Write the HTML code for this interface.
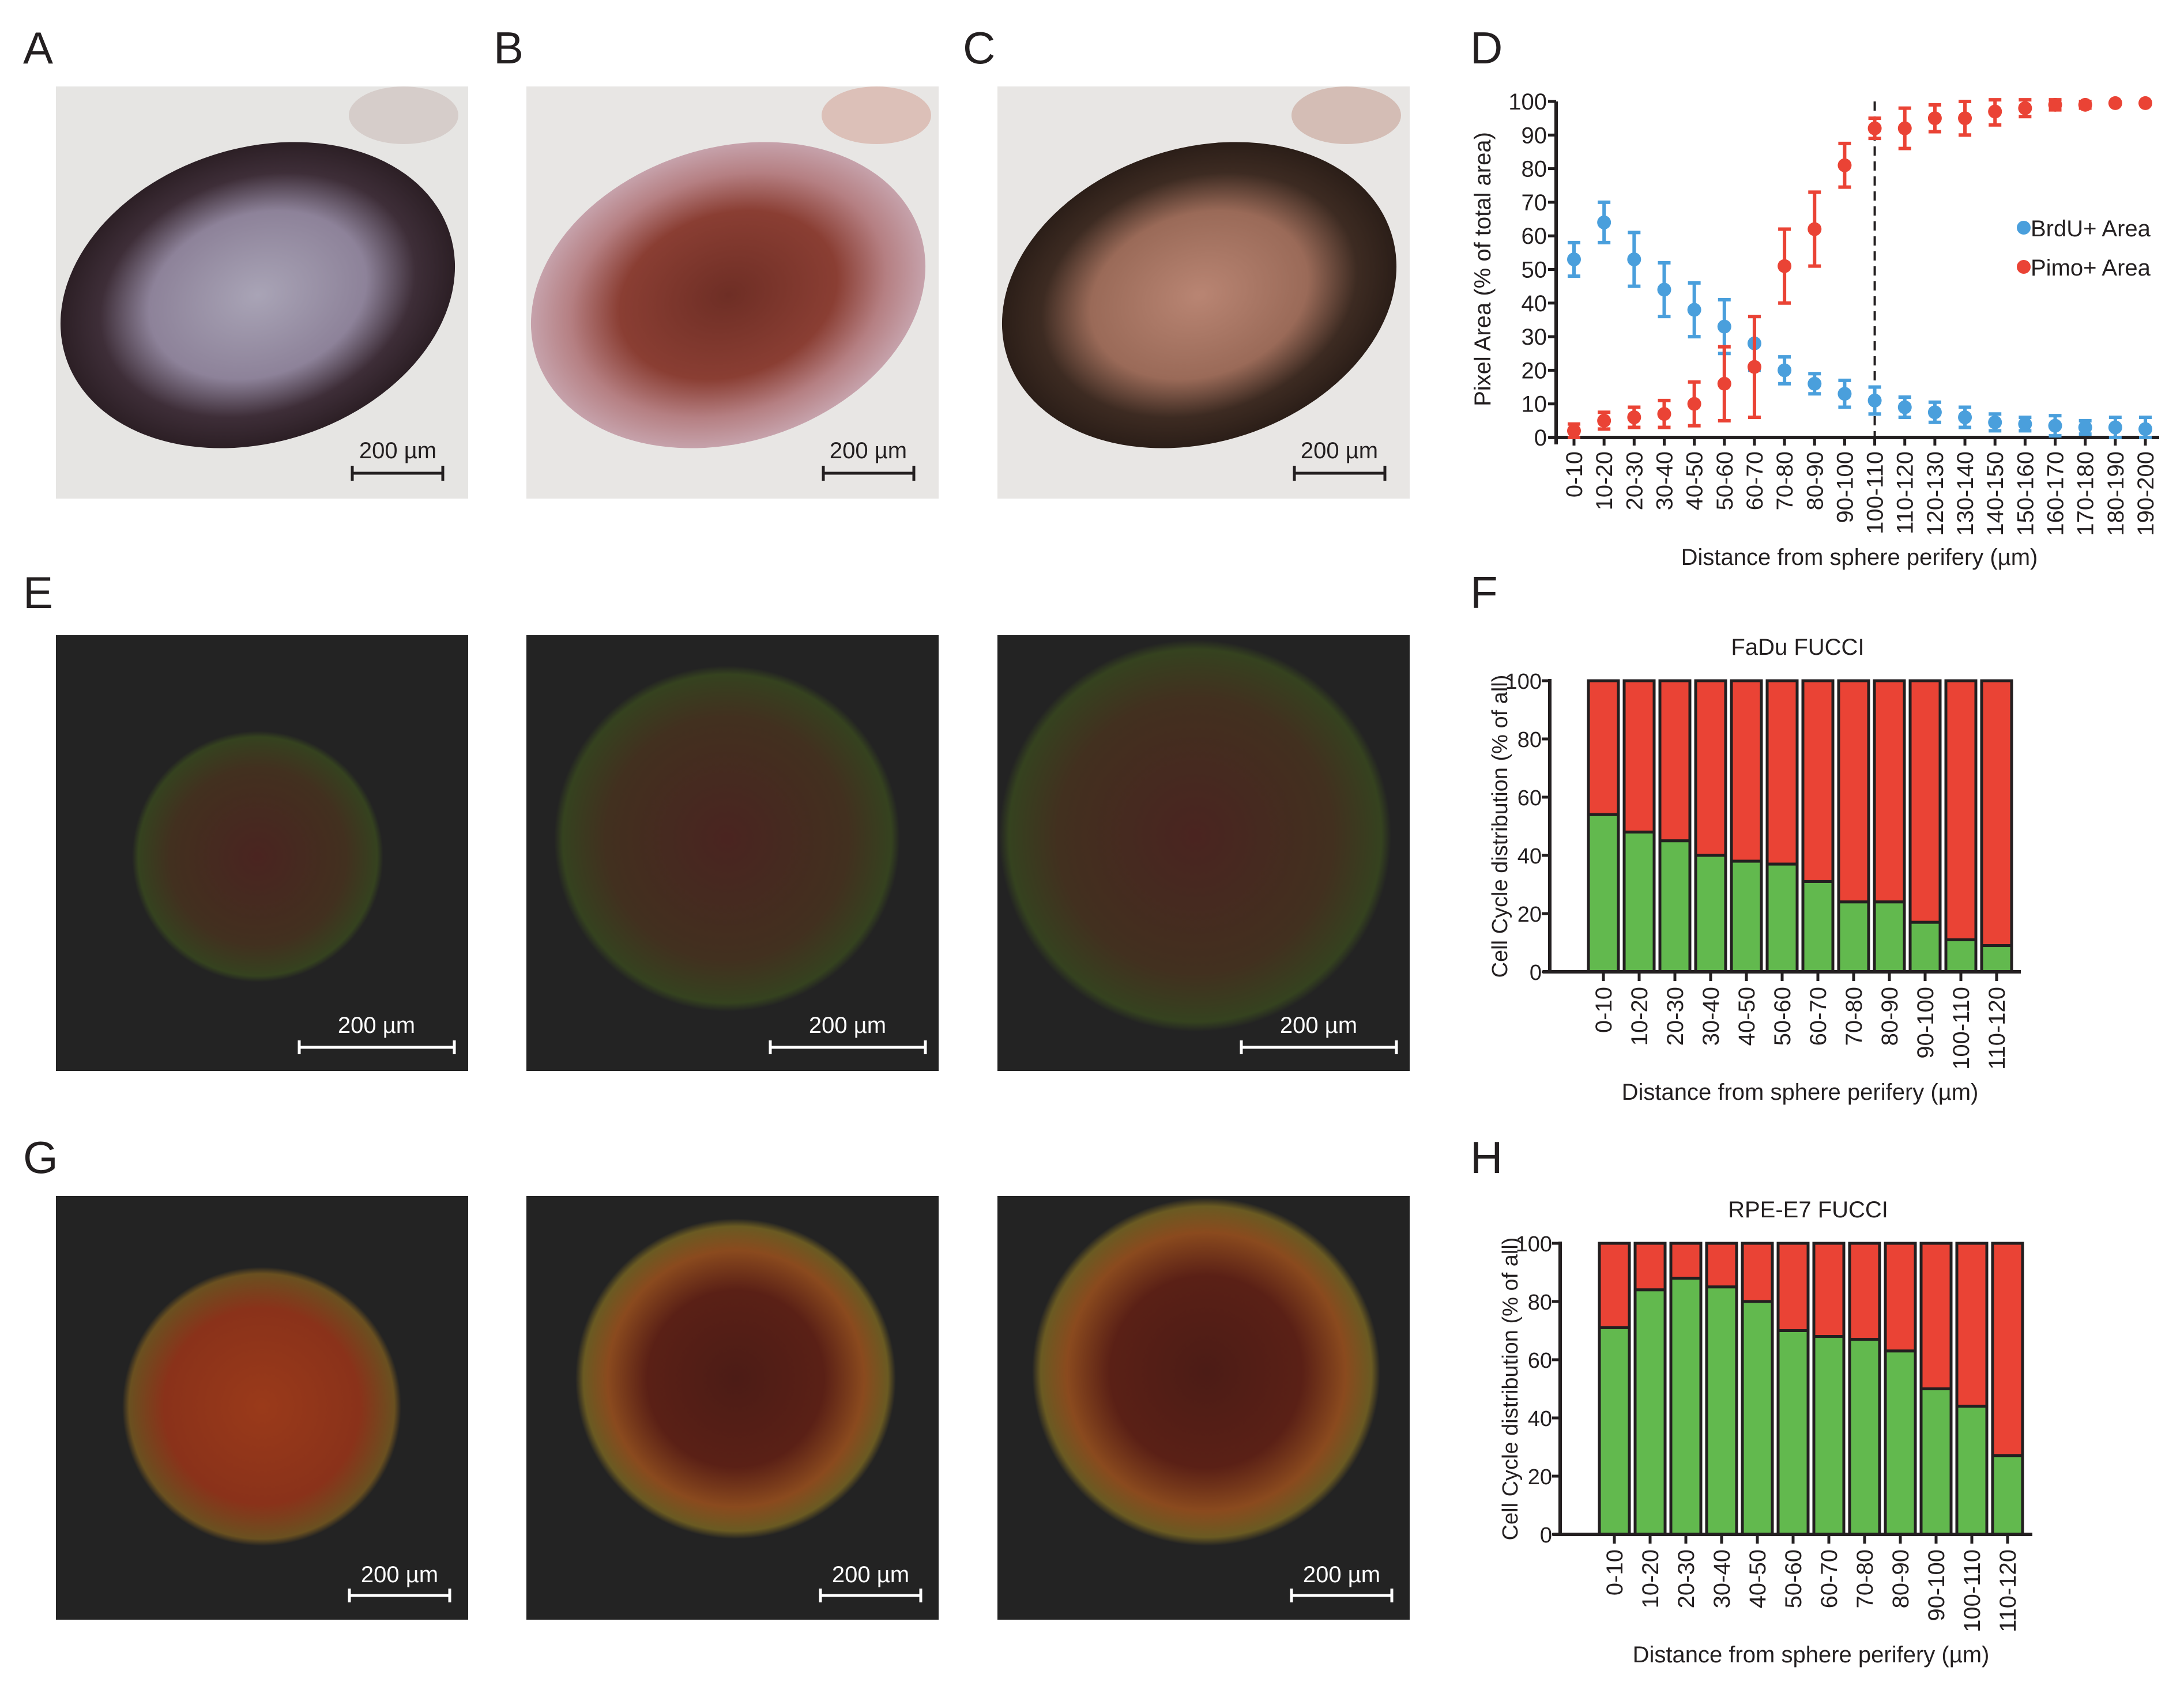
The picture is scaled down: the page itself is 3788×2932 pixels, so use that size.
<!DOCTYPE html>
<html><head><meta charset="utf-8"><style>
html,body{margin:0;padding:0;background:#fff}
svg{display:block}
text{font-family:"Liberation Sans",Arial,sans-serif;fill:#231f20}
</style></head><body>
<svg id="fig" width="3788" height="2932" viewBox="0 0 3788 2932" xmlns="http://www.w3.org/2000/svg">
<defs>
<radialGradient id="gA"><stop offset="0" stop-color="#a9a4b6"/><stop offset="0.55" stop-color="#8d8299"/><stop offset="0.8" stop-color="#3e2e38"/><stop offset="1" stop-color="#2c1f25"/></radialGradient>
<radialGradient id="gB"><stop offset="0" stop-color="#6e2e25"/><stop offset="0.55" stop-color="#8a3e33"/><stop offset="0.8" stop-color="#b57f82"/><stop offset="1" stop-color="#c6a2ab"/></radialGradient>
<radialGradient id="gC"><stop offset="0" stop-color="#b98573"/><stop offset="0.55" stop-color="#9a6a58"/><stop offset="0.8" stop-color="#3d2b22"/><stop offset="1" stop-color="#2b1e18"/></radialGradient>
<radialGradient id="gE"><stop offset="0" stop-color="#4a2420"/><stop offset="0.7" stop-color="#42301f"/><stop offset="0.95" stop-color="#35421f"/><stop offset="1" stop-color="#232323"/></radialGradient>
<radialGradient id="gG"><stop offset="0" stop-color="#4c1c16"/><stop offset="0.55" stop-color="#5a2016"/><stop offset="0.8" stop-color="#8a4a1e"/><stop offset="0.95" stop-color="#6a5a22"/><stop offset="1" stop-color="#232323"/></radialGradient>
<radialGradient id="gG1"><stop offset="0" stop-color="#9a3a1a"/><stop offset="0.7" stop-color="#8a321a"/><stop offset="0.95" stop-color="#6a5020"/><stop offset="1" stop-color="#232323"/></radialGradient>
</defs>

<g font-size="78">
<text x="40" y="110">A</text><text x="856" y="110">B</text><text x="1670" y="110">C</text>
<text x="2550" y="110">D</text><text x="40" y="1055">E</text><text x="2550" y="1055">F</text>
<text x="40" y="2035">G</text><text x="2550" y="2035">H</text>
</g>

<g>
<rect x="97" y="150" width="715" height="715" fill="#e6e5e3"/>
<ellipse cx="700" cy="200" rx="95" ry="50" fill="#d6cdca"/>
<ellipse cx="447" cy="512" rx="350" ry="255" transform="rotate(-18 447 512)" fill="url(#gA)"/>
<line x1="611" y1="821" x2="768" y2="821" stroke="#231f20" stroke-width="5"/>
<line x1="611" y1="808" x2="611" y2="834" stroke="#231f20" stroke-width="5"/><line x1="768" y1="808" x2="768" y2="834" stroke="#231f20" stroke-width="5"/>
<text x="690" y="795" font-size="40" text-anchor="middle">200 µm</text>
</g>
<g>
<rect x="913" y="150" width="715" height="715" fill="#e8e6e4"/>
<ellipse cx="1520" cy="200" rx="95" ry="50" fill="#dcc0b8"/>
<ellipse cx="1263" cy="512" rx="350" ry="255" transform="rotate(-18 1263 512)" fill="url(#gB)"/>
<line x1="1428" y1="821" x2="1585" y2="821" stroke="#231f20" stroke-width="5"/>
<line x1="1428" y1="808" x2="1428" y2="834" stroke="#231f20" stroke-width="5"/><line x1="1585" y1="808" x2="1585" y2="834" stroke="#231f20" stroke-width="5"/>
<text x="1506" y="795" font-size="40" text-anchor="middle">200 µm</text>
</g>
<g>
<rect x="1730" y="150" width="715" height="715" fill="#e8e6e4"/>
<ellipse cx="2335" cy="200" rx="95" ry="50" fill="#d4bdb5"/>
<ellipse cx="2080" cy="512" rx="350" ry="255" transform="rotate(-18 2080 512)" fill="url(#gC)"/>
<line x1="2245" y1="821" x2="2402" y2="821" stroke="#231f20" stroke-width="5"/>
<line x1="2245" y1="808" x2="2245" y2="834" stroke="#231f20" stroke-width="5"/><line x1="2402" y1="808" x2="2402" y2="834" stroke="#231f20" stroke-width="5"/>
<text x="2323" y="795" font-size="40" text-anchor="middle">200 µm</text>
</g>

<g>
<rect x="97" y="1102" width="715" height="756" fill="#232323"/>
<circle cx="447" cy="1486" r="218" fill="url(#gE)"/>
<line x1="519" y1="1817" x2="788" y2="1817" stroke="#fff" stroke-width="5"/>
<line x1="519" y1="1805" x2="519" y2="1829" stroke="#fff" stroke-width="5"/><line x1="788" y1="1805" x2="788" y2="1829" stroke="#fff" stroke-width="5"/>
<text x="653" y="1792" font-size="40" text-anchor="middle" style="fill:#fff">200 µm</text>
</g>
<g>
<rect x="913" y="1102" width="715" height="756" fill="#232323"/>
<circle cx="1261" cy="1455" r="300" fill="url(#gE)"/>
<line x1="1336" y1="1817" x2="1605" y2="1817" stroke="#fff" stroke-width="5"/>
<line x1="1336" y1="1805" x2="1336" y2="1829" stroke="#fff" stroke-width="5"/><line x1="1605" y1="1805" x2="1605" y2="1829" stroke="#fff" stroke-width="5"/>
<text x="1470" y="1792" font-size="40" text-anchor="middle" style="fill:#fff">200 µm</text>
</g>
<g>
<rect x="1730" y="1102" width="715" height="756" fill="#232323"/>
<circle cx="2073" cy="1450" r="340" fill="url(#gE)"/>
<line x1="2153" y1="1817" x2="2422" y2="1817" stroke="#fff" stroke-width="5"/>
<line x1="2153" y1="1805" x2="2153" y2="1829" stroke="#fff" stroke-width="5"/><line x1="2422" y1="1805" x2="2422" y2="1829" stroke="#fff" stroke-width="5"/>
<text x="2287" y="1792" font-size="40" text-anchor="middle" style="fill:#fff">200 µm</text>
</g>

<g>
<rect x="97" y="2075" width="715" height="735" fill="#232323"/>
<circle cx="454" cy="2440" r="242" fill="url(#gG1)"/>
<line x1="606" y1="2768" x2="780" y2="2768" stroke="#fff" stroke-width="5"/>
<line x1="606" y1="2756" x2="606" y2="2780" stroke="#fff" stroke-width="5"/><line x1="780" y1="2756" x2="780" y2="2780" stroke="#fff" stroke-width="5"/>
<text x="693" y="2745" font-size="40" text-anchor="middle" style="fill:#fff">200 µm</text>
</g>
<g>
<rect x="913" y="2075" width="715" height="735" fill="#232323"/>
<circle cx="1276" cy="2392" r="278" fill="url(#gG)"/>
<line x1="1423" y1="2768" x2="1597" y2="2768" stroke="#fff" stroke-width="5"/>
<line x1="1423" y1="2756" x2="1423" y2="2780" stroke="#fff" stroke-width="5"/><line x1="1597" y1="2756" x2="1597" y2="2780" stroke="#fff" stroke-width="5"/>
<text x="1510" y="2745" font-size="40" text-anchor="middle" style="fill:#fff">200 µm</text>
</g>
<g>
<rect x="1730" y="2075" width="715" height="735" fill="#232323"/>
<circle cx="2092" cy="2380" r="302" fill="url(#gG)"/>
<line x1="2240" y1="2768" x2="2414" y2="2768" stroke="#fff" stroke-width="5"/>
<line x1="2240" y1="2756" x2="2240" y2="2780" stroke="#fff" stroke-width="5"/><line x1="2414" y1="2756" x2="2414" y2="2780" stroke="#fff" stroke-width="5"/>
<text x="2327" y="2745" font-size="40" text-anchor="middle" style="fill:#fff">200 µm</text>
</g>

<g id="chartD"></g>
<g id="chartF"></g>
<g id="chartH"></g>
</svg>
<script>
// ---- Panel D data ----
const catsD = ["0-10","10-20","20-30","30-40","40-50","50-60","60-70","70-80","80-90","90-100","100-110","110-120","120-130","130-140","140-150","150-160","160-170","170-180","180-190","190-200"];
const brdu = [53,64,53,44,38,33,28,20,16,13,11,9,7.5,6,4.5,4,3.5,3,3,2.5];
const brduErr = [5,6,8,8,8,8,8,4,3,4,4,3,3,3,2.5,2,3,2,3,3.5];
const pimo = [2,5,6,7,10,16,21,51,62,81,92,92,95,95,97,98,99,99,99.5,99.5];
const pimoErr = [2,2.5,3,4,6.5,11,15,11,11,6.5,3,6,4,5,4,2.5,1.5,1,0,0];
const ticksD = [0,10,20,30,40,50,60,70,80,90,100];
const dashedCatD = "100-110";
// ---- Panel F data ----
const catsF = ["0-10","10-20","20-30","30-40","40-50","50-60","60-70","70-80","80-90","90-100","100-110","110-120"];
const greenF = [54,48,45,40,38,37,31,24,24,17,11,9];
// ---- Panel H data ----
const catsH = ["0-10","10-20","20-30","30-40","40-50","50-60","60-70","70-80","80-90","90-100","100-110","110-120"];
const greenH = [71,84,88,85,80,70,68,67,63,50,44,27];
const ticksBar = [0,20,40,60,80,100];

const NS="http://www.w3.org/2000/svg";
function mk(parent,tag,attrs,txt){const e=document.createElementNS(NS,tag);for(const k in attrs)e.setAttribute(k,attrs[k]);if(txt!==undefined)e.textContent=txt;parent.appendChild(e);return e;}
const RED="#ea4335", BLUE="#4a9fdc", GREEN="#62b94e", INK="#231f20";

(function(){
  const g=document.getElementById('chartD');
  const x0=2699,x1=3745,y0=759,y100=176,c0=2730,cN=3721;
  const yS=v=>y0-(y0-y100)*v/100;
  const xS=i=>c0+(cN-c0)*i/(catsD.length-1);
  const ax=mk(g,'path',{d:`M${x0} ${y100} V${y0+12} M${x0-12} ${y0} H${x1}`,stroke:INK,'stroke-width':6,fill:'none'});
  
  ticksD.forEach(t=>{
    mk(g,'line',{x1:x0-14,x2:x0,y1:yS(t),y2:yS(t),stroke:INK,'stroke-width':5});
    const tl=mk(g,'text',{x:x0-16,y:yS(t)+14,'font-size':40,'text-anchor':'end'},t);
    
  });
  catsD.forEach((c,i)=>{
    mk(g,'line',{x1:xS(i),x2:xS(i),y1:y0,y2:y0+14,stroke:INK,'stroke-width':5});
    const tl=mk(g,'text',{x:0,y:0,'font-size':40,'text-anchor':'end',transform:`translate(${xS(i)+14},${y0+24}) rotate(-90)`},c);
    
  });
  const di=catsD.indexOf(dashedCatD);
  const dl=mk(g,'line',{x1:xS(di),x2:xS(di),y1:y100,y2:y0,stroke:INK,'stroke-width':4,'stroke-dasharray':'16 10'});
  
  function series(vals,errs,col,name){
    vals.forEach((v,i)=>{
      const x=xS(i),lo=yS(Math.max(0,v-errs[i])),hi=yS(Math.min(100.5,v+errs[i]));
      if(errs[i]>0){
        mk(g,'path',{d:`M${x} ${lo} V${hi} M${x-11} ${lo} H${x+11} M${x-11} ${hi} H${x+11}`,stroke:col,'stroke-width':6,fill:'none'});
      }
      const p=mk(g,'circle',{cx:x,cy:yS(v),r:12,fill:col});
      
    });
  }
  series(brdu,brduErr,BLUE,'brdu');
  series(pimo,pimoErr,RED,'pimo');
  const l1=mk(g,'g',{});
  mk(l1,'circle',{cx:3510,cy:395,r:12,fill:BLUE});mk(l1,'text',{x:3522,y:410,'font-size':40},'BrdU+ Area');
  const l2=mk(g,'g',{});
  mk(l2,'circle',{cx:3510,cy:463,r:12,fill:RED});mk(l2,'text',{x:3522,y:478,'font-size':40},'Pimo+ Area');
  const yt=mk(g,'text',{x:0,y:0,'font-size':40,'text-anchor':'middle',transform:`translate(2585,467) rotate(-90)`},'Pixel Area (% of total area)');
  
  const xt=mk(g,'text',{x:3225,y:980,'font-size':40,'text-anchor':'middle'},'Distance from sphere perifery (µm)');
  
})();

function barChart(id,cats,green,o){
  const g=document.getElementById(id);
  const yS=v=>o.y0-(o.y0-o.y100)*v/100;
  const xS=i=>o.c0+(o.cN-o.c0)*i/(cats.length-1);
  const bw=52;
  cats.forEach((c,i)=>{
    const x=xS(i)-bw/2;
    const r=mk(g,'rect',{x:x,y:yS(100),width:bw,height:yS(green[i])-yS(100),fill:RED,stroke:INK,'stroke-width':5});
    
    const gr=mk(g,'rect',{x:x,y:yS(green[i]),width:bw,height:o.y0-yS(green[i]),fill:GREEN,stroke:INK,'stroke-width':5});
    
    mk(g,'line',{x1:xS(i),x2:xS(i),y1:o.y0,y2:o.y0+16,stroke:INK,'stroke-width':5});
    const tl=mk(g,'text',{x:0,y:0,'font-size':40,'text-anchor':'end',transform:`translate(${xS(i)+14},${o.y0+26}) rotate(-90)`},c);
    
  });
  const ax=mk(g,'path',{d:`M${o.x0} ${o.y100-3} V${o.y0} M${o.x0-12} ${o.y0} H${o.x1}`,stroke:INK,'stroke-width':6,fill:'none'});
  
  ticksBar.forEach(t=>{
    mk(g,'line',{x1:o.x0-14,x2:o.x0,y1:yS(t),y2:yS(t),stroke:INK,'stroke-width':5});
    const tl=mk(g,'text',{x:o.x0-14,y:yS(t)+14,'font-size':38,'text-anchor':'end'},t);
    
  });
  const tt=mk(g,'text',{x:o.tx,y:o.ty,'font-size':40,'text-anchor':'middle'},o.title);
  
  const yt=mk(g,'text',{x:0,y:0,'font-size':38,'text-anchor':'middle',transform:`translate(${o.ylx},${(o.y0+o.y100)/2}) rotate(-90)`},'Cell Cycle distribution (% of all)');
  
  const xt=mk(g,'text',{x:(o.c0+o.cN)/2,y:o.xly,'font-size':40,'text-anchor':'middle'},'Distance from sphere perifery (µm)');
  
}
barChart('chartF',catsF,greenF,{x0:2688,x1:3505,y0:1686,y100:1181,c0:2781,cN:3463,tx:3118,ty:1136,ylx:2614,xly:1908,title:'FaDu FUCCI'});
barChart('chartH',catsH,greenH,{x0:2706,x1:3525,y0:2662,y100:2157,c0:2800,cN:3482,tx:3136,ty:2112,ylx:2632,xly:2884,title:'RPE-E7 FUCCI'});
</script>
</body></html>
